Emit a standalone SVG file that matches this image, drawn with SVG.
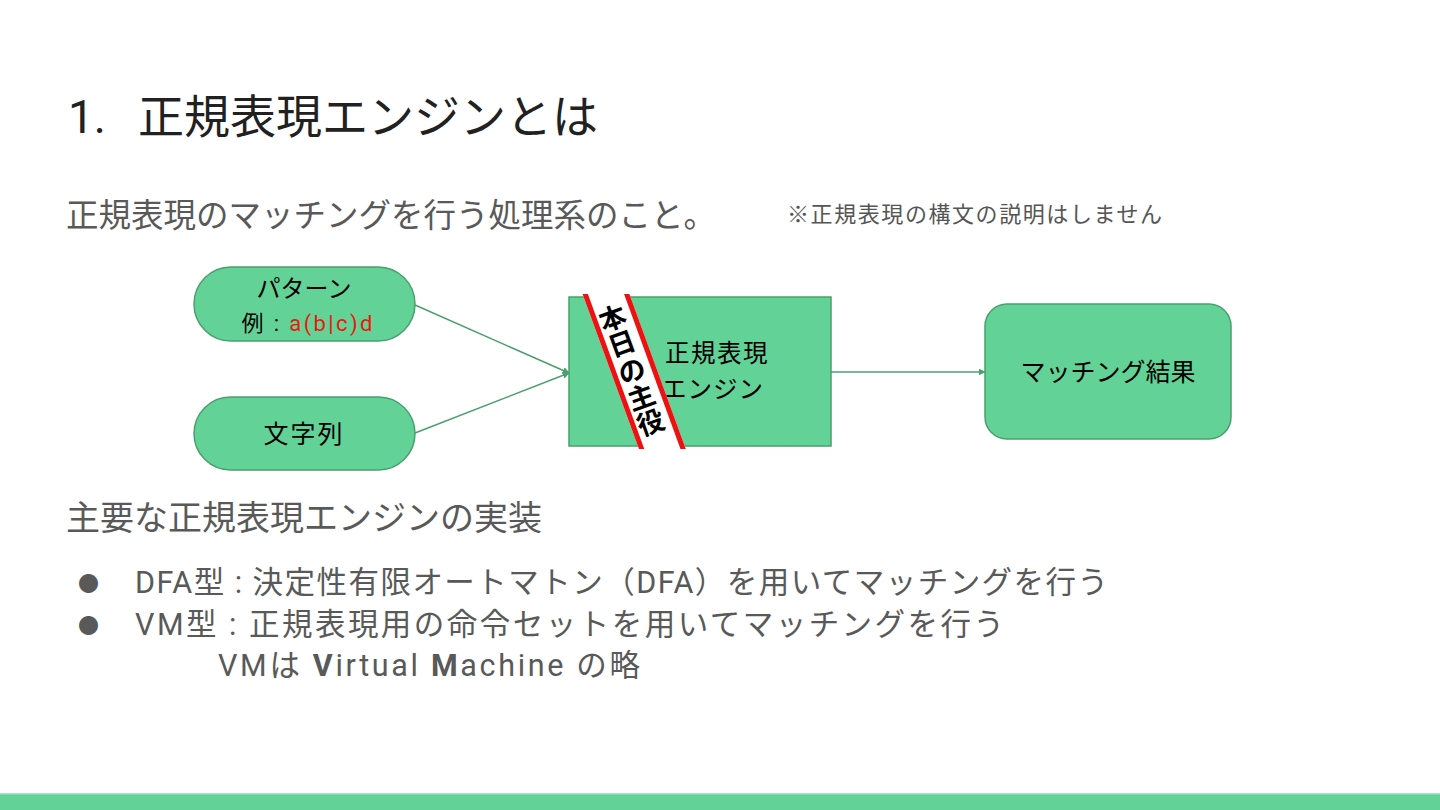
<svg xmlns="http://www.w3.org/2000/svg" width="1440" height="810" viewBox="0 0 1440 810">
<defs>
<style>
.jp{font-family:"Noto Sans CJK JP","Noto Sans",sans-serif;}
.rj{font-family:Roboto,"Noto Sans CJK JP",sans-serif;}
.node{fill:#62d297;stroke:#4a9f6e;stroke-width:1.5;}
.lbl{fill:#000;text-anchor:middle;}
.conn{stroke:#4a9f6e;stroke-width:1.5;fill:none;}
</style>
<marker id="ah" viewBox="0 0 10 10" refX="9" refY="5" markerWidth="7" markerHeight="7" orient="auto" markerUnits="userSpaceOnUse">
<path d="M0,0 L10,5 L0,10 z" fill="#4a9f6e"/>
</marker>
<clipPath id="bandclip"><rect x="560" y="294" width="150" height="155"/></clipPath>
</defs>
<rect width="1440" height="810" fill="#fff"/>
<rect x="0" y="794" width="1440" height="16" fill="#62d297"/>
<rect x="0" y="793" width="1440" height="1.5" fill="#a6e3c3"/>

<text class="rj" x="68" y="133" font-size="46" fill="#212121">1.<tspan x="138" class="jp">正規表現エンジンとは</tspan></text>
<text class="jp" x="66" y="227" font-size="32.5" fill="#595959">正規表現のマッチングを行う処理系のこと。</text>
<text class="jp" x="787" y="222" font-size="22" fill="#555" textLength="375">※正規表現の構文の説明はしません</text>

<g id="connectors">
<line class="conn" x1="415" y1="305" x2="569" y2="373" marker-end="url(#ah)"/>
<line class="conn" x1="415" y1="433" x2="569" y2="373" marker-end="url(#ah)"/>
<line class="conn" x1="831" y1="372" x2="985" y2="372" marker-end="url(#ah)"/>
</g>

<g id="node-pattern">
<rect class="node" x="194" y="267" width="221" height="74" rx="37"/>
<text class="jp lbl" x="304" y="297" font-size="24">パターン</text>
<text class="rj lbl" x="307" y="331" font-size="22" textLength="131">例 : <tspan fill="#e8190f">a(b|c)d</tspan></text>
</g>
<g id="node-string">
<rect class="node" x="194" y="397" width="221" height="73" rx="36.5"/>
<text class="jp lbl" x="304" y="443" font-size="25" letter-spacing="2">文字列</text>
</g>
<g id="node-engine">
<rect class="node" x="569" y="297" width="262" height="149"/>
<text class="jp lbl" x="717" y="362" font-size="24.5" letter-spacing="1.5">正規表現</text>
<text class="jp lbl" x="713" y="398" font-size="24.5" letter-spacing="1">エンジン</text>
<g clip-path="url(#bandclip)">
<g transform="translate(634,371) rotate(-20)">
<rect x="-22" y="-100" width="44" height="200" fill="#fff"/>
<rect x="-22" y="-100" width="5" height="200" fill="#ee1111"/>
<rect x="17" y="-100" width="5" height="200" fill="#ee1111"/>
<g class="jp" font-size="27" font-weight="bold" text-anchor="middle" fill="#000">
<text x="-2" y="-47">本</text>
<text x="-2" y="-20">日</text>
<text x="-2" y="9">の</text>
<text x="-2" y="37">主</text>
<text x="-2" y="64">役</text>
</g>
</g>
</g>
</g>
<g id="node-result">
<rect class="node" x="985" y="304" width="246" height="135" rx="22"/>
<text class="jp lbl" x="1108" y="381" font-size="25">マッチング結果</text>
</g>

<text class="jp" x="66" y="530" font-size="34" fill="#595959">主要な正規表現エンジンの実装</text>
<g class="rj" font-size="30.5" fill="#595959">
<text x="78" y="591" font-size="21">●</text>
<text x="135" y="593" textLength="973">DFA型 : 決定性有限オートマトン（DFA）を用いてマッチングを行う</text>
<text x="78" y="633" font-size="21">●</text>
<text x="135" y="635" textLength="869">VM型 : 正規表現用の命令セットを用いてマッチングを行う</text>
<text x="218" y="676" textLength="422">VMは <tspan font-weight="bold">V</tspan>irtual <tspan font-weight="bold">M</tspan>achine の略</text>
</g>
</svg>
